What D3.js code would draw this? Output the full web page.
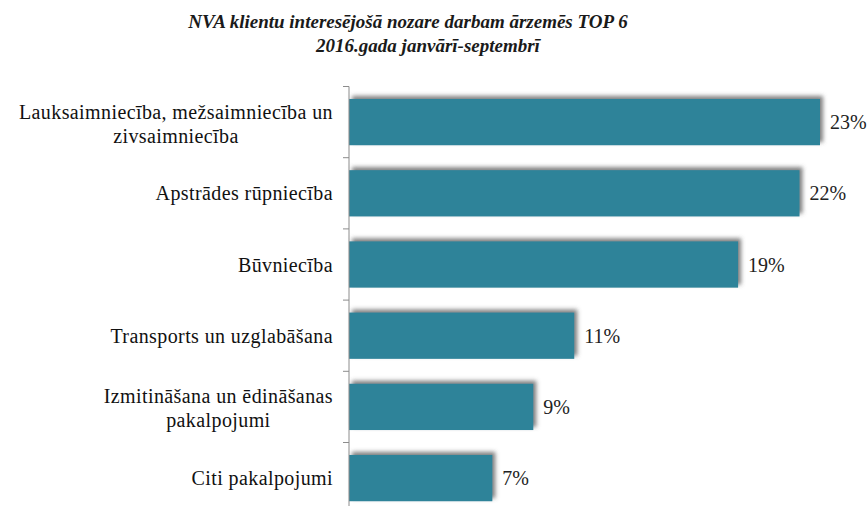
<!DOCTYPE html>
<html>
<head>
<meta charset="utf-8">
<script src="https://cdn.jsdelivr.net/npm/d3@7"></script>
<style>
  html, body { margin: 0; padding: 0; background: #fff; }
  svg { display: block; }
</style>
</head>
<body>
<svg id="chart" width="868" height="506"></svg>
<script>
// Sectors of interest for NVA clients working abroad, Jan–Sep 2016 (share, %)
const categories = [
  ["Lauksaimniecība, mežsaimniecība un", "zivsaimniecība"],
  ["Apstrādes rūpniecība"],
  ["Būvniecība"],
  ["Transports un uzglabāšana"],
  ["Izmitināšana un ēdināšanas", "pakalpojumi"],
  ["Citi pakalpojumi"]
];
const values = [23, 22, 19, 11, 9, 7];
const valueLabels = ["23%", "22%", "19%", "11%", "9%", "7%"];
const titleLines = ["NVA klientu interesējošā nozare darbam ārzemēs TOP 6", "2016.gada janvārī-septembrī"];

const svg = d3.select("#chart");
const serif = "'Liberation Serif', 'Times New Roman', serif";

const plotLeft = 349, plotTop = 86.5, bandH = 71.2;
const keys = categories.map((c, i) => i);

const x = d3.scaleLinear().domain([0, 23]).range([plotLeft, 820]);
const y = d3.scaleBand().domain(keys)
  .range([plotTop, plotTop + bandH * keys.length])
  .paddingInner(0.35).paddingOuter(0.175);

// drop shadow for the bars
const defs = svg.append("defs");
const f = defs.append("filter").attr("id", "shadow")
  .attr("x", "-10%").attr("y", "-40%").attr("width", "120%").attr("height", "180%");
f.append("feDropShadow").attr("dx", 3).attr("dy", -3).attr("stdDeviation", 2.2)
  .attr("flood-color", "#555").attr("flood-opacity", 0.75);

// title
svg.append("g").selectAll("text").data(titleLines).join("text")
  .attr("x", (d, i) => i === 0 ? 408 : 428)
  .attr("y", (d, i) => 28 + i * 24)
  .attr("text-anchor", "middle")
  .attr("font-family", serif)
  .attr("font-style", "italic")
  .attr("font-weight", "bold")
  .attr("font-size", 19)
  .attr("fill", "#1a1a1a")
  .text(d => d);

// bars
svg.append("g").selectAll("rect").data(values).join("rect")
  .attr("x", x(0))
  .attr("y", (d, i) => y(i))
  .attr("width", d => x(d) - x(0))
  .attr("height", y.bandwidth())
  .attr("fill", "#2f8399")
  .attr("filter", "url(#shadow)");

// value labels
svg.append("g").selectAll("text").data(values).join("text")
  .attr("x", d => x(d) + 10)
  .attr("y", (d, i) => y(i) + y.bandwidth() / 2)
  .attr("dy", "0.35em")
  .attr("font-family", serif)
  .attr("font-size", 20)
  .attr("fill", "#222")
  .text((d, i) => valueLabels[i]);

// category axis: line plus ticks at band boundaries
const axisG = svg.append("g");
const yEnd = plotTop + bandH * keys.length;
axisG.append("line")
  .attr("x1", plotLeft).attr("x2", plotLeft).attr("y1", plotTop).attr("y2", yEnd)
  .attr("stroke", "#8c8c8c").attr("stroke-width", 1);
axisG.selectAll("line.tick").data(d3.range(keys.length + 1)).join("line")
  .attr("class", "tick")
  .attr("x1", plotLeft - 6).attr("x2", plotLeft)
  .attr("y1", i => plotTop + i * bandH).attr("y2", i => plotTop + i * bandH)
  .attr("stroke", "#8c8c8c").attr("stroke-width", 1);

// category labels: lines centred on each other, block right-aligned to the axis
const labelRight = 333;
const lg = svg.append("g").attr("font-family", serif).attr("font-size", 20)
  .attr("letter-spacing", 0.4).attr("fill", "#111");
categories.forEach((lines, i) => {
  const cy = y(i) + y.bandwidth() / 2;
  const g = lg.append("g");
  const lineH = 24;
  const t = g.selectAll("text").data(lines).join("text")
    .attr("y", (d, j) => cy + (j - (lines.length - 1) / 2) * lineH + (lines.length > 1 ? 1.5 : 0))
    .attr("dy", "0.35em")
    .attr("text-anchor", "middle")
    .text(d => d);
  const widths = t.nodes().map(n => n.getComputedTextLength());
  const w = Math.max(...widths);
  t.attr("x", labelRight - w / 2);
});
</script>
</body>
</html>
